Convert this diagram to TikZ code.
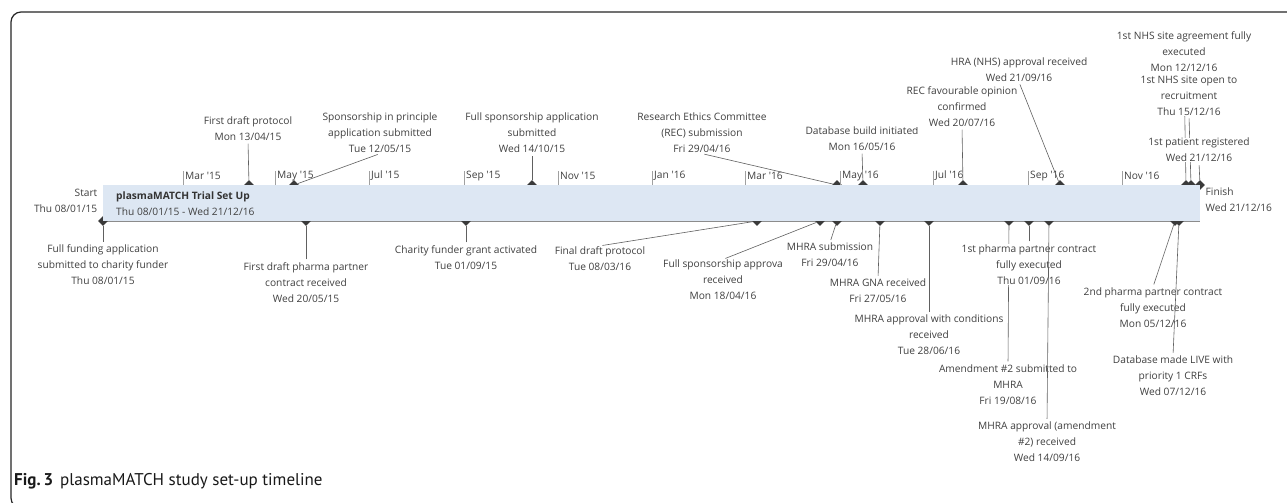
\documentclass[tikz,border=0pt]{standalone}
\usepackage{fontspec}
\setmainfont{Open Sans}
\newfontfamily\capfont{PT Sans}
\usetikzlibrary{shapes.geometric}
\definecolor{txt}{HTML}{404040}
\definecolor{connc}{HTML}{606060}
\definecolor{barline}{HTML}{8C8C8C}
\definecolor{barfill}{HTML}{DDE7F3}
\definecolor{diac}{HTML}{3A3A3A}
\definecolor{tickc}{HTML}{A0A0A0}
\begin{document}
\begin{tikzpicture}[x=1pt,y=-1pt,
  lbl/.style={align=center, fill=white, inner sep=0.5pt, text=txt, font=\fontsize{10.2}{16}\selectfont},
  conn/.style={draw=connc, line width=0.6pt, shorten <=2.5pt},
  dia/.style={diamond, fill=diac, minimum width=10pt, minimum height=10pt, inner sep=0pt},
  month/.style={anchor=west, inner sep=0.5pt, text=txt, font=\fontsize{10.2}{12}\selectfont},
  side/.style={inner sep=0.5pt, text=txt, font=\fontsize{10.2}{16}\selectfont}]
\useasboundingbox (0,0) rectangle (1287,503);
\clip (0,0) rectangle (1287,503);
\fill[white] (0,0) rectangle (1287,503);
% frame
\draw[line width=1.2pt, draw=black!85, rounded corners=10pt] (11,12) rectangle (1300,508);
% bar lines
\draw[barline, line width=0.8pt] (103,185) -- (1200,185);
\draw[barline, line width=0.8pt] (103,221) -- (1200,221);
% diamonds (top)
\node[dia] (dT1) at (249,185) {};
\node[dia] (dT2) at (294,185) {};
\node[dia] (dT3) at (532,185) {};
\node[dia] (dT4) at (837,185) {};
\node[dia] (dT5) at (863,185) {};
\node[dia] (dT6) at (963,185) {};
\node[dia] (dT7) at (1060,185) {};
\node[dia] (dT8) at (1186,185) {};
\node[dia] (dT9) at (1191,185) {};
\node[dia] (dT10) at (1200,185) {};
% diamonds (bottom)
\node[dia] (dB1) at (103,221) {};
\node[dia] (dB2) at (306,221) {};
\node[dia] (dB3) at (466,221) {};
\node[dia] (dB4) at (757,221) {};
\node[dia] (dB5) at (820,221) {};
\node[dia] (dB6) at (837,221) {};
\node[dia] (dB7) at (880,221) {};
\node[dia] (dB8) at (929,221) {};
\node[dia] (dB10) at (1009,221) {};
\node[dia] (dB9) at (1029,221) {};
\node[dia] (dB11) at (1049,221) {};
\node[dia] (dB12) at (1175,221) {};
\node[dia] (dB13) at (1179,221) {};
% bar fill and texts
\fill[barfill] (103,185.4) rectangle (1200,220.6);
\node[anchor=west, align=left, inner sep=0pt, text=txt, font=\fontsize{10.2}{16}\selectfont] (bar) at (116,204)
  {\textbf{\color{black!80}plasmaMATCH Trial Set Up}\\Thu 08/01/15 - Wed 21/12/16};
\node[side, anchor=east, align=right] (start) at (98,200.5) {Start\\Thu 08/01/15};
\node[side, anchor=west, align=left] (finish) at (1205,200) {Finish\\Wed 21/12/16};
% month ticks
\foreach \x/\m in {183/Mar \textquotesingle15, 275/May \textquotesingle15, 369/Jul \textquotesingle15,
  464/Sep \textquotesingle15, 558/Nov \textquotesingle15, 652/Jan \textquotesingle16,
  745/Mar \textquotesingle16, 840/May \textquotesingle16, 933/Jul \textquotesingle16,
  1028/Sep \textquotesingle16, 1122/Nov \textquotesingle16}{
  \draw[tickc, line width=0.6pt] (\x,171) -- (\x,185);
  \node[month] (m\x) at (\x+1.5,176) {\m};
}
% milestones, in date order (later labels mask earlier connectors)
\node[lbl] (lB1) at (103,265) {Full funding application\\submitted to charity funder\\Thu 08/01/15};
\draw[conn] (lB1.north) -- (dB1);
\node[lbl] (lT1) at (248,128.5) {First draft protocol\\Mon 13/04/15};
\draw[conn] (lT1.south) -- (dT1);
\node[lbl] (lT2) at (380,133) {Sponsorship in principle\\application submitted\\Tue 12/05/15};
\draw[conn] (lT2.south) -- (dT2);
\node[lbl] (lB2) at (306,282.5) {First draft pharma partner\\contract received\\Wed 20/05/15};
\draw[conn] (lB2.north) -- (dB2);
\node[lbl] (lB3) at (466,257.5) {Charity funder grant activated\\Tue 01/09/15};
\draw[conn] (lB3.north) -- (dB3);
\node[lbl] (lT3) at (532,133) {Full sponsorship application\\submitted\\Wed 14/10/15};
\draw[conn] (lT3.south) -- (dT3);
\node[lbl] (lB4) at (600,258.5) {Final draft protocol\\Tue 08/03/16};
\draw[conn] (lB4.north) -- (dB4);
\node[lbl] (lB5) at (723,280) {Full sponsorship approva\\received\\Mon 18/04/16};
\draw[conn] (lB5.north) -- (dB5);
\node[lbl] (lT4) at (702,133) {Research Ethics Committee\\(REC) submission\\Fri 29/04/16};
\draw[conn] (lT4.south) -- (dT4);
\node[lbl] (lB6) at (830,255) {MHRA submission\\Fri 29/04/16};
\draw[conn] (lB6.north) -- (dB6);
\node[lbl] (lT5) at (862,138.5) {Database build initiated\\Mon 16/05/16};
\draw[conn] (lT5.south) -- (dT5);
\node[lbl] (lB7) at (878,291) {MHRA GNA received\\Fri 27/05/16};
\draw[conn] (lB7.north) -- (dB7);
\node[lbl] (lB8) at (929,335) {MHRA approval with conditions\\received\\Tue 28/06/16};
\draw[conn] (lB8.north) -- (dB8);
\node[lbl] (lT6) at (962,106.5) {REC favourable opinion\\confirmed\\Wed 20/07/16};
\draw[conn] (lT6.south) -- (dT6);
\node[lbl] (lB10) at (1008,384.5) {Amendment \#2 submitted to\\MHRA\\Fri 19/08/16};
\draw[conn] (lB10.north) -- (dB10);
\node[lbl] (lB9) at (1029,264.5) {1st pharma partner contract\\fully executed\\Thu 01/09/16};
\draw[conn] (lB9.north) -- (dB9);
\node[lbl] (lB11) at (1047,442) {MHRA approval (amendment\\\#2) received\\Wed 14/09/16};
\draw[conn] (lB11.north) -- (dB11);
\node[lbl] (lT7) at (1019,69.5) {HRA (NHS) approval received\\Wed 21/09/16};
\draw[conn] (lT7.south) -- (dT7);
\node[lbl] (lB12) at (1153,307.5) {2nd pharma partner contract\\fully executed\\Mon 05/12/16};
\draw[conn] (lB12.north) -- (dB12);
\node[lbl] (lB13) at (1173,376) {Database made LIVE with\\priority 1 CRFs\\Wed 07/12/16};
\draw[conn] (lB13.north) -- (dB13);
\node[lbl] (lT8) at (1184,51.5) {1st NHS site agreement fully\\executed\\Mon 12/12/16};
\draw[conn] (lT8.south) -- (dT8);
\node[lbl] (lT9) at (1189,95.5) {1st NHS site open to\\recruitment\\Thu 15/12/16};
\draw[conn] (lT9.south) -- (dT9);
\node[lbl] (lT10) at (1199,150) {1st patient registered\\Wed 21/12/16};
\draw[conn] (lT10.south) -- (dT10);
% caption
\node[anchor=base west, inner sep=0pt, text=black!90, font=\capfont\fontsize{17}{19}\selectfont] (cap) at (14,485)
  {\textbf{Fig.\,3}\hspace{7pt}plasmaMATCH study set-up timeline};
\end{tikzpicture}
\end{document}
